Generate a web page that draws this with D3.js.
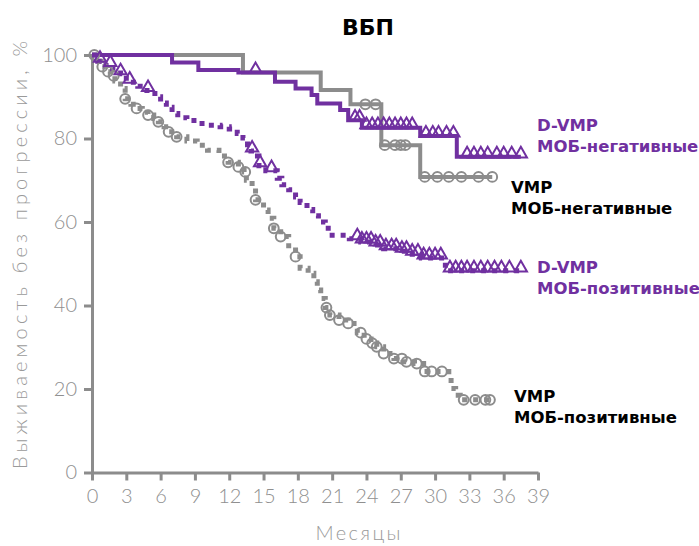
<!DOCTYPE html>
<html>
<head>
<meta charset="utf-8">
<script src="https://cdn.jsdelivr.net/npm/d3@7"></script>
<style>
  body { margin: 0; background: #fff; }
  .tick text { font-family: Lato, "DejaVu Sans", sans-serif; font-weight: 300; }
</style>
</head>
<body>
<div id="chart"></div>
<script>
var width = 699;
var height = 546;

var xTicks = [0, 3, 6, 9, 12, 15, 18, 21, 24, 27, 30, 33, 36, 39];
var yTicks = [0, 20, 40, 60, 80, 100];

// VMP, MOB-negative (gray solid)
var vmpNegTimes = [0, 13.2, 20, 22.6, 25.3, 28.7];
var vmpNegSurv  = [100, 95.8, 91.6, 88.2, 78.4, 70.8];
var vmpNegEnd = 35.0;
var vmpNegCens = [23.9, 24.8, 25.6, 26.5, 27.0, 27.4, 29.1, 30.2, 31.2, 32.3, 33.8, 35.0];

// D-VMP, MOB-negative (purple solid)
var dvmpNegTimes = [0, 7, 9.3, 12.8, 16, 17.8, 19.2, 19.7, 21.7, 22.4, 23.6, 28.7, 31.9];
var dvmpNegSurv  = [100, 98.2, 96.4, 95.8, 93.6, 92.0, 90.4, 88.4, 86.8, 84.4, 82.6, 80.6, 75.6];
var dvmpNegEnd = 37.5;
var dvmpNegCens = [14.3, 23.0, 23.4, 24.0, 24.5, 25.0, 25.5, 26.0, 26.5, 27.0, 27.5, 28.0,
                   29.2, 29.8, 30.3, 31.0, 31.6, 32.8, 33.4, 34.0, 34.6, 35.4, 36.0, 36.7, 37.5];

// D-VMP, MOB-positive (purple dotted)
var dvmpPosTimes = [0, 0.5, 1, 1.8, 2.5, 3, 4, 4.8, 5.5, 6, 6.5, 7, 7.5, 8.3, 9.2, 10.2, 11.2, 12,
                    12.7, 13.2, 13.6, 13.9, 14.2, 14.6, 15.2, 16.2, 16.6, 17.2, 17.8, 18.2, 18.8,
                    19.3, 19.8, 20.4, 21, 22.5, 23.5, 24.5, 25.5, 27, 28, 28.8, 30.9];
var dvmpPosSurv  = [100, 98.5, 97.5, 96.5, 95.5, 93.5, 92.5, 91.5, 90, 88.5, 87.5, 86, 85, 84.3, 83.6,
                    83.2, 82.8, 82.3, 81.2, 80.1, 78.5, 77, 75.8, 73.5, 72.3, 70.5, 68.9, 67.7, 66,
                    64.7, 63, 61.5, 60, 58.5, 56.8, 56, 55.2, 54.5, 53.6, 53, 52.3, 51.4, 48.3];
var dvmpPosEnd = 37.5;
var dvmpPosCens = [0.7, 1.6, 2.5, 3.3, 4.9, 14.0, 14.7, 15.7, 23.2, 23.6, 24.0, 24.4, 24.8, 25.2,
                   25.7, 26.2, 26.6, 27.1, 27.5, 28.0, 28.5, 29.0, 29.5, 30.0, 30.5, 31.3, 31.8,
                   32.3, 32.8, 33.4, 34.0, 34.6, 35.2, 35.8, 36.5, 37.5];

// VMP, MOB-positive (gray dotted)
var vmpPosTimes = [0, 0.3, 0.8, 1.2, 1.6, 2, 2.5, 2.9, 3.4, 3.9, 4.4, 4.9, 5.4, 5.8, 6.3, 6.7, 7.4,
                   8.3, 9.2, 10.1, 11.1, 11.9, 12.8, 13.3, 13.5, 14, 14.3, 15, 15.4, 15.9, 16.5,
                   17.2, 17.8, 18.2, 18.9, 19.4, 19.7, 20, 20.4, 20.8, 21.6, 22.4, 23.2, 23.8,
                   24.4, 24.9, 25.5, 26.4, 27.2, 28.2, 29, 31.2, 31.4, 31.8, 32.2];
var vmpPosSurv  = [100, 98.5, 97.2, 96, 95, 93.8, 92, 89.5, 88.2, 87.2, 86.3, 85.6, 84.8, 84, 82.8,
                   81.6, 80.4, 79.4, 78.4, 77.2, 75.8, 74.3, 73.2, 72, 70, 68.5, 65.3, 62.9, 60.9,
                   58.5, 56.5, 54.3, 51.7, 48.9, 47.7, 45.7, 43.7, 41.7, 39.5, 37.7, 36.5, 35.7,
                   33.5, 32, 31, 30.1, 28.5, 27.3, 26.5, 26.1, 24.2, 22.9, 20.1, 18.5, 17.4];
var vmpPosEnd = 35.0;
var vmpPosCens = [0.2, 0.9, 1.4, 1.9, 2.9, 3.9, 4.9, 5.8, 6.7, 7.4, 11.9, 12.8, 13.4, 14.3, 15.9,
                  16.5, 17.8, 20.5, 20.8, 21.6, 22.4, 23.5, 24.0, 24.5, 24.9, 25.5, 26.4, 27.1,
                  27.5, 28.4, 29.1, 29.7, 30.6, 32.5, 33.5, 34.4, 34.8];

var gray = "#8c8c8c";
var purple = "#7030a0";

var margin = {top: 55, left: 92, right: 161, bottom: 73.5};
var w = width - margin.left - margin.right;
var h = height - margin.top - margin.bottom;

var svg = d3.select("#chart")
    .append("svg")
    .attr("width", width)
    .attr("height", height);

var g = svg.append("g")
    .attr("transform", "translate(" + margin.left + "," + margin.top + ")");

var x = d3.scaleLinear().domain([0, 39]).range([0, w]);
var y = d3.scaleLinear().domain([0, 100]).range([h, 0]);

// axes
var xAxis = g.append("g")
    .attr("transform", "translate(0," + h + ")")
    .call(d3.axisBottom(x).tickValues(xTicks).tickSize(8).tickSizeOuter(0).tickPadding(8));
var yAxis = g.append("g")
    .call(d3.axisLeft(y).tickValues(yTicks).tickSize(8).tickSizeOuter(0).tickPadding(7));

[xAxis, yAxis].forEach(function(a) {
    a.select(".domain").attr("stroke", gray).attr("stroke-width", 3);
    a.selectAll(".tick line").attr("stroke", gray).attr("stroke-width", 3);
    a.selectAll(".tick text").attr("fill", "#8f8f8f").style("font-size", "20px");
});

function stepValue(times, surv, t) {
    var v = surv[0];
    for (var i = 0; i < times.length; i++) {
        if (times[i] <= t) v = surv[i];
    }
    return v;
}

var line = d3.line()
    .x(function(d) { return x(d[0]); })
    .y(function(d) { return y(d[1]); })
    .curve(d3.curveStepAfter);

function drawCurve(times, surv, end, color, dotted) {
    var pts = times.map(function(t, i) { return [t, surv[i]]; });
    pts.push([end, surv[surv.length - 1]]);
    var p = g.append("path")
        .datum(pts)
        .attr("d", line)
        .attr("fill", "none")
        .attr("stroke", color);
    if (dotted) {
        p.attr("stroke-width", 5).attr("stroke-dasharray", "5,6");
    } else {
        p.attr("stroke-width", 4);
    }
}

function drawCensors(times, surv, cens, color, shape) {
    g.selectAll(null)
        .data(cens)
        .enter()
        .append("path")
        .attr("transform", function(t) {
            return "translate(" + x(t) + "," + (y(stepValue(times, surv, t)) - (shape == "tri" ? 3 : 0)) + ")";
        })
        .attr("d", d3.symbol().type(shape == "tri" ? d3.symbolTriangle : d3.symbolCircle).size(shape == "tri" ? 65 : 75))
        .attr("fill", "none")
        .attr("stroke", color)
        .attr("stroke-width", 2);
}

drawCurve(vmpPosTimes, vmpPosSurv, vmpPosEnd, gray, true);
drawCurve(dvmpPosTimes, dvmpPosSurv, dvmpPosEnd, purple, true);
drawCurve(vmpNegTimes, vmpNegSurv, vmpNegEnd, gray, false);
drawCurve(dvmpNegTimes, dvmpNegSurv, dvmpNegEnd, purple, false);

drawCensors(vmpPosTimes, vmpPosSurv, vmpPosCens, gray, "circle");
drawCensors(dvmpPosTimes, dvmpPosSurv, dvmpPosCens, purple, "tri");
drawCensors(vmpNegTimes, vmpNegSurv, vmpNegCens, gray, "circle");
drawCensors(dvmpNegTimes, dvmpNegSurv, dvmpNegCens, purple, "tri");

// title
svg.append("text")
    .attr("x", 368)
    .attr("y", 35)
    .attr("text-anchor", "middle")
    .style("font-family", "'DejaVu Sans', sans-serif")
    .style("font-weight", "bold")
    .style("font-size", "22px")
    .text("ВБП");

// axis titles
svg.append("text")
    .attr("transform", "translate(27," + 255 + ") rotate(-90)")
    .attr("text-anchor", "middle")
    .attr("fill", "#9a9a9a")
    .attr("textLength", 428)
    .attr("lengthAdjust", "spacing")
    .style("font-family", "Lato, sans-serif")
    .style("font-weight", 300)
    .style("font-size", "20px")
    .text("Выживаемость без прогрессии, %");

svg.append("text")
    .attr("x", 358)
    .attr("y", 540)
    .attr("text-anchor", "middle")
    .attr("fill", "#9a9a9a")
    .attr("textLength", 85)
    .attr("lengthAdjust", "spacing")
    .style("font-family", "Lato, sans-serif")
    .style("font-weight", 300)
    .style("font-size", "20px")
    .text("Месяцы");

// curve labels
var labels = [
    {x: 537, y: 131, lines: ["D-VMP", "МОБ-негативные"], color: purple},
    {x: 511, y: 193, lines: ["VMP", "МОБ-негативные"], color: "#000"},
    {x: 537, y: 273, lines: ["D-VMP", "МОБ-позитивные"], color: purple},
    {x: 514, y: 402, lines: ["VMP", "МОБ-позитивные"], color: "#000"}
];
labels.forEach(function(l) {
    var t = svg.append("text")
        .attr("fill", l.color)
        .style("font-family", "'DejaVu Sans', sans-serif")
        .style("font-weight", "bold")
        .style("font-size", "16.5px");
    l.lines.forEach(function(s, i) {
        t.append("tspan").attr("x", l.x).attr("y", l.y + i * 21).text(s);
    });
});
</script>
</body>
</html>
